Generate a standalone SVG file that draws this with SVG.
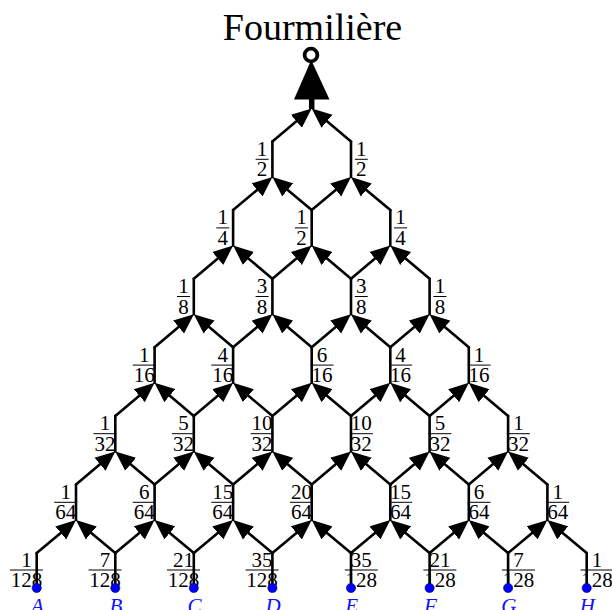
<svg xmlns="http://www.w3.org/2000/svg" width="612" height="610" viewBox="0 0 612 610">
<style>
.t{font-family:"Liberation Serif","Times New Roman",serif;font-size:21px;fill:#000;text-anchor:middle}
.title{font-family:"Liberation Serif","Times New Roman",serif;font-size:38px;fill:#000;text-anchor:middle}
.bar{stroke:#000;stroke-width:1}
.e{stroke:#000;stroke-width:2.6;fill:none;stroke-linecap:round}
.d{marker-end:url(#ah)}
.dot{fill:#0000ff;stroke:#000040;stroke-width:0.6}
.let{font-family:"Liberation Serif","Times New Roman",serif;font-size:21px;font-style:italic;fill:#1010ff;text-anchor:middle}
</style>
<defs>
<marker id="ah" viewBox="0 -9 21 18" refX="0" refY="0" markerWidth="21" markerHeight="18" markerUnits="userSpaceOnUse" orient="auto">
<path d="M0,-8.5 L20,0 L0,8.5 Z" fill="#000"/>
</marker>
</defs>
<rect width="612" height="610" fill="#fff"/>

<g id="labels">
<!-- level 0 -->
<g id="n0-0"><text class="t" x="26.4" y="566.5">1</text><line class="bar" x1="9.9" y1="570" x2="42.9" y2="570"/><text class="t" x="26.4" y="587">128</text></g>
<g id="n0-1"><text class="t" x="105" y="566.5">7</text><line class="bar" x1="88.5" y1="570" x2="121.5" y2="570"/><text class="t" x="105" y="587">128</text></g>
<g id="n0-2"><text class="t" x="183.5" y="566.5">21</text><line class="bar" x1="167" y1="570" x2="200" y2="570"/><text class="t" x="183.5" y="587">128</text></g>
<g id="n0-3"><text class="t" x="262.1" y="566.5">35</text><line class="bar" x1="245.6" y1="570" x2="278.6" y2="570"/><text class="t" x="262.1" y="587">128</text></g>
<g id="n0-4"><text class="t" x="361.3" y="566.5">35</text><line class="bar" x1="344.8" y1="570" x2="377.8" y2="570"/><text class="t" x="361.3" y="587">128</text></g>
<g id="n0-5"><text class="t" x="439.9" y="566.5">21</text><line class="bar" x1="423.4" y1="570" x2="456.4" y2="570"/><text class="t" x="439.9" y="587">128</text></g>
<g id="n0-6"><text class="t" x="518.4" y="566.5">7</text><line class="bar" x1="501.9" y1="570" x2="534.9" y2="570"/><text class="t" x="518.4" y="587">128</text></g>
<g id="n0-7"><text class="t" x="597" y="566.5">1</text><line class="bar" x1="580.5" y1="570" x2="613.5" y2="570"/><text class="t" x="597" y="587">128</text></g>
<!-- level 1 -->
<g id="n1-0"><text class="t" x="65.7" y="498.8">1</text><line class="bar" x1="54.2" y1="502.3" x2="77.2" y2="502.3"/><text class="t" x="65.7" y="519.3">64</text></g>
<g id="n1-1"><text class="t" x="144.3" y="498.8">6</text><line class="bar" x1="132.8" y1="502.3" x2="155.8" y2="502.3"/><text class="t" x="144.3" y="519.3">64</text></g>
<g id="n1-2"><text class="t" x="222.8" y="498.8">15</text><line class="bar" x1="211.3" y1="502.3" x2="234.3" y2="502.3"/><text class="t" x="222.8" y="519.3">64</text></g>
<g id="n1-3"><text class="t" x="301.4" y="498.8">20</text><line class="bar" x1="289.9" y1="502.3" x2="312.9" y2="502.3"/><text class="t" x="301.4" y="519.3">64</text></g>
<g id="n1-4"><text class="t" x="400.6" y="498.8">15</text><line class="bar" x1="389.1" y1="502.3" x2="412.1" y2="502.3"/><text class="t" x="400.6" y="519.3">64</text></g>
<g id="n1-5"><text class="t" x="479.1" y="498.8">6</text><line class="bar" x1="467.6" y1="502.3" x2="490.6" y2="502.3"/><text class="t" x="479.1" y="519.3">64</text></g>
<g id="n1-6"><text class="t" x="557.7" y="498.8">1</text><line class="bar" x1="546.2" y1="502.3" x2="569.2" y2="502.3"/><text class="t" x="557.7" y="519.3">64</text></g>
<!-- level 2 -->
<g id="n2-0"><text class="t" x="105" y="430.2">1</text><line class="bar" x1="93.5" y1="433.7" x2="116.5" y2="433.7"/><text class="t" x="105" y="450.7">32</text></g>
<g id="n2-1"><text class="t" x="183.5" y="430.2">5</text><line class="bar" x1="172" y1="433.7" x2="195" y2="433.7"/><text class="t" x="183.5" y="450.7">32</text></g>
<g id="n2-2"><text class="t" x="262.1" y="430.2">10</text><line class="bar" x1="250.6" y1="433.7" x2="273.6" y2="433.7"/><text class="t" x="262.1" y="450.7">32</text></g>
<g id="n2-3"><text class="t" x="361.3" y="430.2">10</text><line class="bar" x1="349.8" y1="433.7" x2="372.8" y2="433.7"/><text class="t" x="361.3" y="450.7">32</text></g>
<g id="n2-4"><text class="t" x="439.9" y="430.2">5</text><line class="bar" x1="428.4" y1="433.7" x2="451.4" y2="433.7"/><text class="t" x="439.9" y="450.7">32</text></g>
<g id="n2-5"><text class="t" x="518.4" y="430.2">1</text><line class="bar" x1="506.9" y1="433.7" x2="529.9" y2="433.7"/><text class="t" x="518.4" y="450.7">32</text></g>
<!-- level 3 -->
<g id="n3-0"><text class="t" x="144.3" y="361.6">1</text><line class="bar" x1="132.8" y1="365.1" x2="155.8" y2="365.1"/><text class="t" x="144.3" y="382.1">16</text></g>
<g id="n3-1"><text class="t" x="222.8" y="361.6">4</text><line class="bar" x1="211.3" y1="365.1" x2="234.3" y2="365.1"/><text class="t" x="222.8" y="382.1">16</text></g>
<g id="n3-2"><text class="t" x="322" y="361.6">6</text><line class="bar" x1="310.5" y1="365.1" x2="333.5" y2="365.1"/><text class="t" x="322" y="382.1">16</text></g>
<g id="n3-3"><text class="t" x="400.6" y="361.6">4</text><line class="bar" x1="389.1" y1="365.1" x2="412.1" y2="365.1"/><text class="t" x="400.6" y="382.1">16</text></g>
<g id="n3-4"><text class="t" x="479.1" y="361.6">1</text><line class="bar" x1="467.6" y1="365.1" x2="490.6" y2="365.1"/><text class="t" x="479.1" y="382.1">16</text></g>
<!-- level 4 -->
<g id="n4-0"><text class="t" x="183.5" y="293">1</text><line class="bar" x1="177" y1="296.5" x2="190" y2="296.5"/><text class="t" x="183.5" y="313.5">8</text></g>
<g id="n4-1"><text class="t" x="262.1" y="293">3</text><line class="bar" x1="255.6" y1="296.5" x2="268.6" y2="296.5"/><text class="t" x="262.1" y="313.5">8</text></g>
<g id="n4-2"><text class="t" x="361.3" y="293">3</text><line class="bar" x1="354.8" y1="296.5" x2="367.8" y2="296.5"/><text class="t" x="361.3" y="313.5">8</text></g>
<g id="n4-3"><text class="t" x="439.9" y="293">1</text><line class="bar" x1="433.4" y1="296.5" x2="446.4" y2="296.5"/><text class="t" x="439.9" y="313.5">8</text></g>
<!-- level 5 -->
<g id="n5-0"><text class="t" x="222.8" y="224.4">1</text><line class="bar" x1="216.3" y1="227.9" x2="229.3" y2="227.9"/><text class="t" x="222.8" y="244.9">4</text></g>
<g id="n5-1"><text class="t" x="301.4" y="224.4">1</text><line class="bar" x1="294.9" y1="227.9" x2="307.9" y2="227.9"/><text class="t" x="301.4" y="244.9">2</text></g>
<g id="n5-2"><text class="t" x="400.6" y="224.4">1</text><line class="bar" x1="394.1" y1="227.9" x2="407.1" y2="227.9"/><text class="t" x="400.6" y="244.9">4</text></g>
<!-- level 6 -->
<g id="n6-0"><text class="t" x="262.1" y="155.8">1</text><line class="bar" x1="255.6" y1="159.3" x2="268.6" y2="159.3"/><text class="t" x="262.1" y="176.3">2</text></g>
<g id="n6-1"><text class="t" x="361.3" y="155.8">1</text><line class="bar" x1="354.8" y1="159.3" x2="367.8" y2="159.3"/><text class="t" x="361.3" y="176.3">2</text></g>
</g>

<g id="connectors">
<!-- verticals -->
<g class="e">
<line x1="36.7" y1="588" x2="36.7" y2="553.1"/><line x1="115.3" y1="588" x2="115.3" y2="553.1"/><line x1="193.8" y1="588" x2="193.8" y2="553.1"/><line x1="272.4" y1="588" x2="272.4" y2="553.1"/><line x1="351" y1="588" x2="351" y2="553.1"/><line x1="429.6" y1="588" x2="429.6" y2="553.1"/><line x1="508.1" y1="588" x2="508.1" y2="553.1"/><line x1="586.7" y1="588" x2="586.7" y2="553.1"/>
<line x1="76" y1="520" x2="76" y2="484.5"/><line x1="154.6" y1="520" x2="154.6" y2="484.5"/><line x1="233.1" y1="520" x2="233.1" y2="484.5"/><line x1="311.7" y1="520" x2="311.7" y2="484.5"/><line x1="390.3" y1="520" x2="390.3" y2="484.5"/><line x1="468.8" y1="520" x2="468.8" y2="484.5"/><line x1="547.4" y1="520" x2="547.4" y2="484.5"/>
<line x1="115.3" y1="451.4" x2="115.3" y2="415.9"/><line x1="193.8" y1="451.4" x2="193.8" y2="415.9"/><line x1="272.4" y1="451.4" x2="272.4" y2="415.9"/><line x1="351" y1="451.4" x2="351" y2="415.9"/><line x1="429.6" y1="451.4" x2="429.6" y2="415.9"/><line x1="508.1" y1="451.4" x2="508.1" y2="415.9"/>
<line x1="154.6" y1="382.8" x2="154.6" y2="347.3"/><line x1="233.1" y1="382.8" x2="233.1" y2="347.3"/><line x1="311.7" y1="382.8" x2="311.7" y2="347.3"/><line x1="390.3" y1="382.8" x2="390.3" y2="347.3"/><line x1="468.8" y1="382.8" x2="468.8" y2="347.3"/>
<line x1="193.8" y1="314.2" x2="193.8" y2="278.7"/><line x1="272.4" y1="314.2" x2="272.4" y2="278.7"/><line x1="351" y1="314.2" x2="351" y2="278.7"/><line x1="429.6" y1="314.2" x2="429.6" y2="278.7"/>
<line x1="233.1" y1="245.6" x2="233.1" y2="210.1"/><line x1="311.7" y1="245.6" x2="311.7" y2="210.1"/><line x1="390.3" y1="245.6" x2="390.3" y2="210.1"/>
<line x1="272.4" y1="177" x2="272.4" y2="141.5"/><line x1="351" y1="177" x2="351" y2="141.5"/>
</g>
<!-- diagonals with arrowheads -->
<g class="e d">
<line class="d" x1="36.7" y1="553.1" x2="60.7" y2="532.9"/>
<line class="d" x1="115.3" y1="553.1" x2="91.3" y2="532.9"/><line class="d" x1="115.3" y1="553.1" x2="139.3" y2="532.9"/>
<line class="d" x1="193.8" y1="553.1" x2="169.8" y2="532.9"/><line class="d" x1="193.8" y1="553.1" x2="217.8" y2="532.9"/>
<line class="d" x1="272.4" y1="553.1" x2="248.4" y2="532.9"/><line class="d" x1="272.4" y1="553.1" x2="296.4" y2="532.9"/>
<line class="d" x1="351" y1="553.1" x2="327" y2="532.9"/><line class="d" x1="351" y1="553.1" x2="375" y2="532.9"/>
<line class="d" x1="429.6" y1="553.1" x2="405.6" y2="532.9"/><line class="d" x1="429.6" y1="553.1" x2="453.6" y2="532.9"/>
<line class="d" x1="508.1" y1="553.1" x2="484.1" y2="532.9"/><line class="d" x1="508.1" y1="553.1" x2="532.1" y2="532.9"/>
<line class="d" x1="586.7" y1="553.1" x2="562.7" y2="532.9"/>

<line class="d" x1="76" y1="484.5" x2="100" y2="464.3"/>
<line class="d" x1="154.6" y1="484.5" x2="130.6" y2="464.3"/><line class="d" x1="154.6" y1="484.5" x2="178.6" y2="464.3"/>
<line class="d" x1="233.1" y1="484.5" x2="209.1" y2="464.3"/><line class="d" x1="233.1" y1="484.5" x2="257.1" y2="464.3"/>
<line class="d" x1="311.7" y1="484.5" x2="287.7" y2="464.3"/><line class="d" x1="311.7" y1="484.5" x2="335.7" y2="464.3"/>
<line class="d" x1="390.3" y1="484.5" x2="366.3" y2="464.3"/><line class="d" x1="390.3" y1="484.5" x2="414.3" y2="464.3"/>
<line class="d" x1="468.8" y1="484.5" x2="444.8" y2="464.3"/><line class="d" x1="468.8" y1="484.5" x2="492.8" y2="464.3"/>
<line class="d" x1="547.4" y1="484.5" x2="523.4" y2="464.3"/>

<line class="d" x1="115.3" y1="415.9" x2="139.3" y2="395.7"/>
<line class="d" x1="193.8" y1="415.9" x2="169.8" y2="395.7"/><line class="d" x1="193.8" y1="415.9" x2="217.8" y2="395.7"/>
<line class="d" x1="272.4" y1="415.9" x2="248.4" y2="395.7"/><line class="d" x1="272.4" y1="415.9" x2="296.4" y2="395.7"/>
<line class="d" x1="351" y1="415.9" x2="327" y2="395.7"/><line class="d" x1="351" y1="415.9" x2="375" y2="395.7"/>
<line class="d" x1="429.6" y1="415.9" x2="405.6" y2="395.7"/><line class="d" x1="429.6" y1="415.9" x2="453.6" y2="395.7"/>
<line class="d" x1="508.1" y1="415.9" x2="484.1" y2="395.7"/>

<line class="d" x1="154.6" y1="347.3" x2="178.6" y2="327.1"/>
<line class="d" x1="233.1" y1="347.3" x2="209.1" y2="327.1"/><line class="d" x1="233.1" y1="347.3" x2="257.1" y2="327.1"/>
<line class="d" x1="311.7" y1="347.3" x2="287.7" y2="327.1"/><line class="d" x1="311.7" y1="347.3" x2="335.7" y2="327.1"/>
<line class="d" x1="390.3" y1="347.3" x2="366.3" y2="327.1"/><line class="d" x1="390.3" y1="347.3" x2="414.3" y2="327.1"/>
<line class="d" x1="468.8" y1="347.3" x2="444.8" y2="327.1"/>

<line class="d" x1="193.8" y1="278.7" x2="217.8" y2="258.5"/>
<line class="d" x1="272.4" y1="278.7" x2="248.4" y2="258.5"/><line class="d" x1="272.4" y1="278.7" x2="296.4" y2="258.5"/>
<line class="d" x1="351" y1="278.7" x2="327" y2="258.5"/><line class="d" x1="351" y1="278.7" x2="375" y2="258.5"/>
<line class="d" x1="429.6" y1="278.7" x2="405.6" y2="258.5"/>

<line class="d" x1="233.1" y1="210.1" x2="257.1" y2="189.9"/>
<line class="d" x1="311.7" y1="210.1" x2="287.7" y2="189.9"/><line class="d" x1="311.7" y1="210.1" x2="335.7" y2="189.9"/>
<line class="d" x1="390.3" y1="210.1" x2="366.3" y2="189.9"/>

<line class="d" x1="272.4" y1="141.5" x2="296.4" y2="121.3"/>
<line class="d" x1="351" y1="141.5" x2="327" y2="121.3"/>
</g>
</g>

<g id="fourmiliere">
<line x1="311.7" y1="109" x2="311.7" y2="97" stroke="#000" stroke-width="5.5"/>
<polygon points="294,99.5 311.2,60 329.5,99.5" fill="#000"/>
<circle cx="311" cy="55" r="6.4" fill="#fff" stroke="#000" stroke-width="3.8"/>
<text class="title" x="312.5" y="40">Fourmilière</text>
</g>

<g id="sources">
<g id="A"><circle class="dot" cx="36.7" cy="588" r="4.6"/><text class="let" x="37.5" y="613">A</text></g>
<g id="B"><circle class="dot" cx="115.3" cy="588" r="4.6"/><text class="let" x="116" y="613">B</text></g>
<g id="C"><circle class="dot" cx="193.8" cy="588" r="4.6"/><text class="let" x="194.5" y="613">C</text></g>
<g id="D"><circle class="dot" cx="272.4" cy="588" r="4.6"/><text class="let" x="273" y="613">D</text></g>
<g id="E"><circle class="dot" cx="351" cy="588" r="4.6"/><text class="let" x="351.7" y="613">E</text></g>
<g id="F"><circle class="dot" cx="429.6" cy="588" r="4.6"/><text class="let" x="430.3" y="613">F</text></g>
<g id="G"><circle class="dot" cx="508.1" cy="588" r="4.6"/><text class="let" x="508.8" y="613">G</text></g>
<g id="H"><circle class="dot" cx="586.7" cy="588" r="4.6"/><text class="let" x="587.4" y="613">H</text></g>
</g>
</svg>
